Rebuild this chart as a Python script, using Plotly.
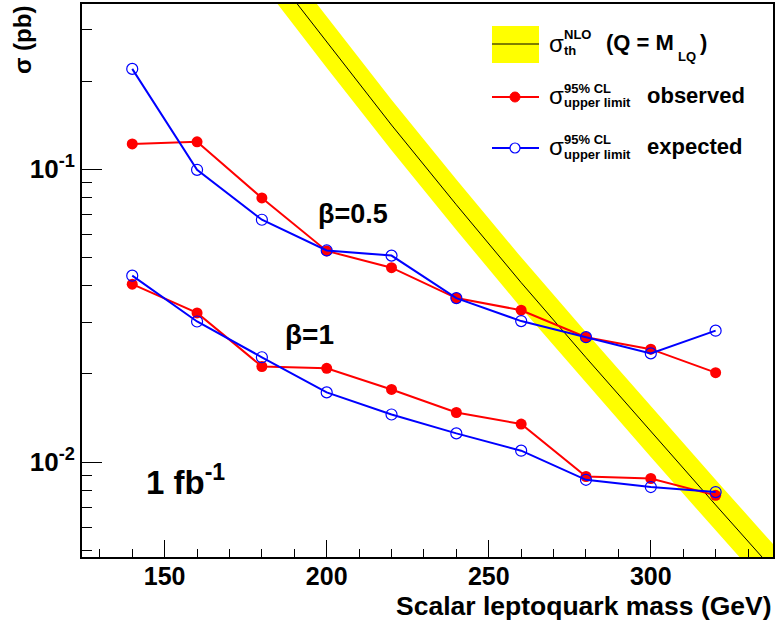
import plotly.graph_objects as go

# scalar leptoquark mass points (GeV)
masses = [140, 160, 180, 200, 220, 240, 260, 280, 300, 320]

# 95% CL upper limits (pb)
obs_b05 = [0.122, 0.124, 0.0798, 0.0526, 0.0461, 0.0363, 0.0330, 0.0267, 0.0243, 0.0202]
exp_b05 = [0.220, 0.0995, 0.0672, 0.0528, 0.0507, 0.0363, 0.0303, 0.0267, 0.0235, 0.0281]
obs_b1 = [0.0405, 0.0323, 0.0212, 0.0209, 0.0177, 0.01477, 0.01349, 0.00893, 0.00879, 0.0077]
exp_b1 = [0.0433, 0.0302, 0.0228, 0.0173, 0.01454, 0.01253, 0.01094, 0.0087, 0.00822, 0.0079]

# NLO theory cross section and its band
th_mass = [180, 200, 220, 240, 260, 280, 300, 320, 340]
th_xsec = [0.524, 0.271, 0.1415, 0.0756, 0.0410, 0.02275, 0.0127, 0.00714, 0.00403]
th_up = [0.639, 0.331, 0.1726, 0.0922, 0.0500, 0.02776, 0.0155, 0.00871, 0.00492]
th_down = [0.430, 0.222, 0.116, 0.062, 0.0336, 0.01865, 0.0104, 0.00585, 0.0033]

FONT = "Liberation Sans, Arial, sans-serif"
L, R, T, B = 82, 773, 4, 557


def px(x):
    return (x - L) / (R - L)


def py(y):
    return (B - y) / (B - T)


fig = go.Figure()

fig.add_trace(go.Scatter(x=th_mass, y=th_down, mode="lines", line=dict(width=0),
                         hoverinfo="skip"))
fig.add_trace(go.Scatter(x=th_mass, y=th_up, mode="lines", line=dict(width=0),
                         fill="tonexty", fillcolor="#ffff00", hoverinfo="skip"))
fig.add_trace(go.Scatter(x=th_mass, y=th_xsec, mode="lines",
                         line=dict(color="black", width=1)))

for obs, exp in [(obs_b05, exp_b05), (obs_b1, exp_b1)]:
    fig.add_trace(go.Scatter(x=masses, y=obs, mode="lines+markers",
                             line=dict(color="#ff0000", width=2),
                             marker=dict(symbol="circle", size=11, color="#ff0000")))
    fig.add_trace(go.Scatter(x=masses, y=exp, mode="lines+markers",
                             line=dict(color="#0000ff", width=2),
                             marker=dict(symbol="circle-open", size=11, color="#0000ff",
                                         line=dict(width=1.2))))

# minor log ticks on an overlay axis
minor_vals = [0.005, 0.006, 0.007, 0.008, 0.009,
              0.02, 0.03, 0.04, 0.05, 0.06, 0.07, 0.08, 0.09, 0.2, 0.3]
fig.add_trace(go.Scatter(x=[130], y=[0.05], yaxis="y2", mode="markers",
                         marker=dict(opacity=0), hoverinfo="skip"))

yrange = [-2.324, -0.436]
fig.update_layout(
    width=775, height=625,
    margin=dict(l=L, r=775 - R, t=T, b=625 - B),
    paper_bgcolor="white", plot_bgcolor="white",
    showlegend=False,
    font=dict(family=FONT, color="black"),
    xaxis=dict(range=[124.5, 337.7], tick0=150, dtick=50, ticks="inside", ticklen=17,
               tickwidth=1, tickcolor="black", showline=True, linecolor="black",
               linewidth=2, mirror=True, showgrid=False, zeroline=False,
               automargin=False, ticklabelstandoff=-4,
               tickfont=dict(family=FONT, size=25, weight="bold"),
               minor=dict(ticks="inside", ticklen=8, dtick=10, tick0=0,
                          tickcolor="black", showgrid=False)),
    yaxis=dict(type="log", range=yrange, tickvals=[0.01, 0.1],
               ticktext=["10<sup>-2</sup>", "10<sup>-1</sup>"],
               ticks="inside", ticklen=20, tickwidth=1, tickcolor="black",
               showline=True, linecolor="black", linewidth=2, mirror=True,
               showgrid=False, zeroline=False, automargin=False,
               tickfont=dict(family=FONT, size=26, weight="bold")),
    yaxis2=dict(type="log", range=yrange, overlaying="y", side="left", anchor="x",
                tickvals=minor_vals, showticklabels=False, ticks="inside",
                ticklen=10, tickwidth=1, tickcolor="black", showgrid=False,
                showline=False, zeroline=False, automargin=False),
)

# legend drawn by hand
shapes = [
    dict(type="rect", x0=px(492), x1=px(539), y0=py(63), y1=py(26),
         fillcolor="#ffff00", line=dict(width=0)),
    dict(type="line", x0=px(492), x1=px(539), y0=py(44), y1=py(44),
         line=dict(color="black", width=1)),
    dict(type="line", x0=px(492), x1=px(539), y0=py(97), y1=py(97),
         line=dict(color="#ff0000", width=2)),
    dict(type="circle", x0=px(510), x1=px(520), y0=py(102), y1=py(92),
         fillcolor="#ff0000", line=dict(color="#ff0000", width=1)),
    dict(type="line", x0=px(492), x1=px(539), y0=py(148), y1=py(148),
         line=dict(color="#0000ff", width=2)),
    dict(type="circle", x0=px(510), x1=px(520), y0=py(153), y1=py(143),
         fillcolor="white", line=dict(color="#0000ff", width=1.2)),
]
for s in shapes:
    s.update(xref="paper", yref="paper")
fig.update_layout(shapes=shapes)


def label(x, y, text, size, anchor="left", bold=True, angle=0, yanchor="middle"):
    fig.add_annotation(xref="paper", yref="paper", x=px(x), y=py(y), text=text,
                       showarrow=False, xanchor=anchor, yanchor=yanchor, textangle=angle,
                       font=dict(family=FONT, size=size, color="black",
                                 weight="bold" if bold else "normal"))


label(547, 44, "σ", 24, bold=False)
label(562, 35, "NLO", 13)
label(562, 51, "th", 13)
label(604, 43, "(Q = M", 22)
label(676, 56, "LQ", 13)
label(698, 43, ")", 22)

for yc, word in [(95, "observed"), (146, "expected")]:
    label(547, yc, "σ", 24, bold=False)
    label(562, yc - 7, "95% CL", 13)
    label(562, yc + 8, "upper limit", 13)
    label(645, yc, word, 22)

label(316, 214, "β=0.5", 27)
label(283, 334, "β=1", 28)
label(144, 480, "1 fb<sup>-1</sup>", 33)

label(774, 606, "Scalar leptoquark mass (GeV)", 26.5, anchor="right")
label(22, 4, "σ (pb)", 24, anchor="center", angle=-90, yanchor="top")

fig.write_html("out.html", config={"displayModeBar": False},
               post_script="document.body.style.margin='0';")
